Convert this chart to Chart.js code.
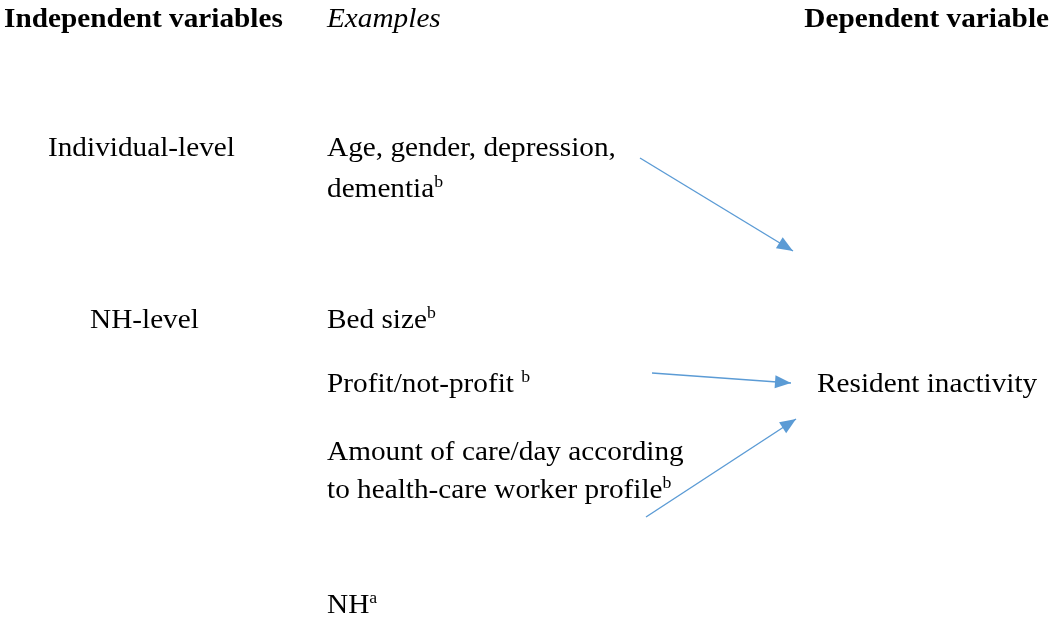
<!DOCTYPE html>
<html lang="en">
  <head>
    <meta charset="UTF-8" />
    <title>Independent variables and resident inactivity</title>
    <style>
      html, body { margin: 0; padding: 0; background: #ffffff; }
      #wrap { width: 1049px; height: 631px; position: relative; }
    </style>
  </head>
  <body>
    <div id="wrap"><canvas id="diagram"></canvas></div>

    <script src="https://cdn.jsdelivr.net/npm/chart.js@4.4.0/dist/chart.umd.min.js"></script>
    <script>
      // text items: content, superscript, anchor x, baseline y (diagram units)
      const labelText = [
        "Independent variables", "Examples", "Dependent variable",
        "Individual-level", "Age, gender, depression,", "dementia",
        "NH-level", "Bed size", "Profit/not-profit ", "Resident inactivity",
        "Amount of care/day according", "to health-care worker profile", "NH"
      ];
      const labelSup = ["", "", "", "", "", "b", "", "b", "b", "", "", "b", "a"];
      const labelX = [4, 327, 1049, 48, 327, 327, 90, 327, 327, 817, 327, 327, 327];
      const labelY = [27, 27, 27, 156, 156, 197, 328, 328, 392, 392, 460, 498, 613];
      const labelStyle = ["bold", "italic", "bold", "", "", "", "", "", "", "", "", "", ""];
      const labelAlign = ["left", "left", "right", "left", "left", "left", "left", "left", "left", "left", "left", "left", "left"];

      // arrows: start point -> tip
      const arrowFromX = [640, 652, 646];
      const arrowFromY = [158, 373, 517];
      const arrowToX = [793, 791, 796];
      const arrowToY = [251, 383, 419];

      const arrowColor = "#5B9BD5";
      const fontFamily = '"Liberation Serif", "Times New Roman", serif';
      const fontSize = 28;
      const stretch = 1.045;

      const datasets = arrowFromX.map((x0, i) => ({
        data: [{ x: x0, y: arrowFromY[i] }, { x: arrowToX[i], y: arrowToY[i] }],
        showLine: true,
        borderColor: arrowColor,
        borderWidth: 1.4,
        pointRadius: 0,
        fill: false,
      }));

      function drawStretched(ctx, text, x, y) {
        ctx.save();
        ctx.translate(x, y);
        ctx.scale(stretch, 1);
        ctx.fillText(text, 0, 0);
        ctx.restore();
      }

      const diagramPlugin = {
        id: "diagram",
        afterDatasetsDraw(chart) {
          const ctx = chart.ctx;
          const xs = chart.scales.x;
          const ys = chart.scales.y;
          ctx.save();
          // arrowheads
          ctx.fillStyle = arrowColor;
          arrowFromX.forEach((x0, i) => {
            const ax = xs.getPixelForValue(x0);
            const ay = ys.getPixelForValue(arrowFromY[i]);
            const bx = xs.getPixelForValue(arrowToX[i]);
            const by = ys.getPixelForValue(arrowToY[i]);
            const ang = Math.atan2(by - ay, bx - ax);
            const len = 16;
            const half = 6.5;
            ctx.beginPath();
            ctx.moveTo(bx, by);
            ctx.lineTo(bx - len * Math.cos(ang) + half * Math.sin(ang), by - len * Math.sin(ang) - half * Math.cos(ang));
            ctx.lineTo(bx - len * Math.cos(ang) - half * Math.sin(ang), by - len * Math.sin(ang) + half * Math.cos(ang));
            ctx.closePath();
            ctx.fill();
          });
          // text
          ctx.fillStyle = "#000000";
          ctx.textBaseline = "alphabetic";
          ctx.textAlign = "left";
          labelText.forEach((t, i) => {
            const px = xs.getPixelForValue(labelX[i]);
            const py = ys.getPixelForValue(labelY[i]);
            const mainFont = `${labelStyle[i]} ${fontSize}px ${fontFamily}`.trim();
            const supFont = `${Math.round(fontSize * 0.62)}px ${fontFamily}`;
            ctx.font = mainFont;
            const w = ctx.measureText(t).width * stretch;
            ctx.font = supFont;
            const sw = labelSup[i] ? ctx.measureText(labelSup[i]).width * stretch : 0;
            const left = labelAlign[i] === "right" ? px - w - sw : px;
            ctx.font = mainFont;
            drawStretched(ctx, t, left, py);
            if (labelSup[i]) {
              ctx.font = supFont;
              drawStretched(ctx, labelSup[i], left + w, py - fontSize * 0.36);
            }
          });
          ctx.restore();
        },
      };

      new Chart(document.getElementById("diagram"), {
        type: "scatter",
        data: { datasets },
        options: {
          responsive: true,
          maintainAspectRatio: false,
          animation: false,
          layout: { padding: 0 },
          plugins: { legend: { display: false }, tooltip: { enabled: false } },
          scales: {
            x: { type: "linear", min: 0, max: 1049, display: false },
            y: { type: "linear", min: 0, max: 631, reverse: true, display: false },
          },
        },
        plugins: [diagramPlugin],
      });
    </script>
  </body>
</html>
